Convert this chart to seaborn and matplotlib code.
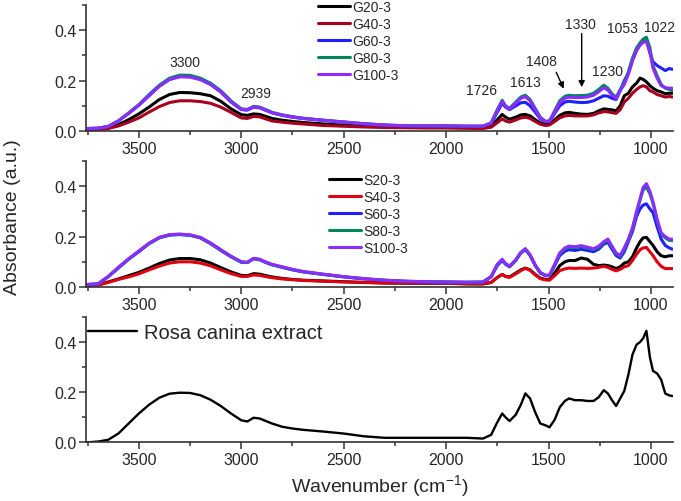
import matplotlib
matplotlib.use("Agg")
import matplotlib.pyplot as plt
from matplotlib.ticker import MultipleLocator
import seaborn as sns

sns.set_theme(style="ticks")
plt.rcParams["font.family"] = ["Liberation Sans", "DejaVu Sans"]
plt.rcParams["mathtext.default"] = "regular"

# wavenumber grid shared by all spectra (cm-1, descending)
WAVENUMBER = [
    3750, 3700, 3650, 3600, 3550, 3500, 3450, 3400, 3350, 3300,
    3250, 3200, 3150, 3100, 3050, 3000, 2970, 2940, 2910, 2880,
    2850, 2800, 2750, 2700, 2600, 2500, 2400, 2300, 2200, 2100,
    2000, 1900, 1820, 1780, 1750, 1726, 1710, 1690, 1660, 1635,
    1613, 1590, 1565, 1540, 1515, 1495, 1470, 1445, 1420, 1400,
    1370, 1340, 1310, 1280, 1255, 1230, 1210, 1190, 1170, 1150,
    1130, 1110, 1090, 1070, 1053, 1038, 1022, 1005, 990, 970,
    950, 930, 910, 895,
]

# --- top panel: G series ---
G20 = [
    0.008, 0.008, 0.012, 0.025, 0.045, 0.068, 0.095, 0.125, 0.145, 0.153,
    0.152, 0.148, 0.140, 0.118, 0.088, 0.065, 0.062, 0.068, 0.066, 0.058,
    0.050, 0.043, 0.038, 0.034, 0.028, 0.023, 0.020, 0.017, 0.015, 0.015,
    0.014, 0.013, 0.012, 0.020, 0.045, 0.066, 0.055, 0.047, 0.055, 0.064,
    0.066, 0.060, 0.045, 0.032, 0.027, 0.028, 0.045, 0.062, 0.072, 0.074,
    0.070, 0.067, 0.066, 0.070, 0.080, 0.088, 0.086, 0.084, 0.080, 0.100,
    0.140, 0.150, 0.175, 0.190, 0.210, 0.205, 0.195, 0.180, 0.170, 0.160,
    0.155, 0.148, 0.150, 0.150,
]
G40 = [
    0.006, 0.006, 0.010, 0.020, 0.035, 0.052, 0.075, 0.097, 0.113, 0.120,
    0.120, 0.117, 0.110, 0.095, 0.074, 0.052, 0.050, 0.058, 0.056, 0.048,
    0.040, 0.035, 0.031, 0.028, 0.022, 0.019, 0.016, 0.014, 0.013, 0.012,
    0.012, 0.011, 0.010, 0.015, 0.033, 0.048, 0.040, 0.035, 0.044, 0.052,
    0.055, 0.050, 0.038, 0.027, 0.022, 0.024, 0.038, 0.052, 0.060, 0.062,
    0.060, 0.060, 0.060, 0.064, 0.072, 0.077, 0.076, 0.073, 0.070, 0.085,
    0.115, 0.130, 0.150, 0.165, 0.175, 0.180, 0.175, 0.160, 0.155, 0.145,
    0.140, 0.135, 0.137, 0.135,
]
G60 = [
    0.010, 0.011, 0.018, 0.040, 0.070, 0.102, 0.140, 0.178, 0.205, 0.217,
    0.216, 0.205, 0.185, 0.155, 0.115, 0.085, 0.083, 0.095, 0.092, 0.082,
    0.072, 0.062, 0.055, 0.050, 0.042, 0.035, 0.028, 0.023, 0.020, 0.020,
    0.019, 0.018, 0.018, 0.030, 0.075, 0.110, 0.095, 0.085, 0.100, 0.112,
    0.114, 0.100, 0.075, 0.048, 0.036, 0.038, 0.070, 0.100, 0.115, 0.118,
    0.115, 0.113, 0.114, 0.120, 0.130, 0.140, 0.138, 0.130, 0.125, 0.160,
    0.200, 0.230, 0.280, 0.320, 0.345, 0.360, 0.360, 0.310, 0.275, 0.260,
    0.250, 0.240, 0.248, 0.245,
]
G80 = [
    0.010, 0.011, 0.018, 0.040, 0.072, 0.105, 0.145, 0.182, 0.210, 0.222,
    0.221, 0.210, 0.190, 0.160, 0.120, 0.088, 0.086, 0.098, 0.095, 0.085,
    0.074, 0.064, 0.057, 0.051, 0.043, 0.036, 0.029, 0.024, 0.021, 0.020,
    0.020, 0.019, 0.019, 0.032, 0.085, 0.122, 0.100, 0.090, 0.115, 0.135,
    0.142, 0.125, 0.090, 0.055, 0.038, 0.040, 0.080, 0.120, 0.138, 0.142,
    0.140, 0.141, 0.142, 0.150, 0.165, 0.182, 0.170, 0.148, 0.134, 0.165,
    0.190, 0.235, 0.290, 0.330, 0.350, 0.365, 0.372, 0.330, 0.260, 0.220,
    0.185, 0.170, 0.165, 0.160,
]
G100 = [
    0.010, 0.011, 0.018, 0.040, 0.070, 0.103, 0.142, 0.178, 0.205, 0.215,
    0.214, 0.204, 0.185, 0.156, 0.117, 0.086, 0.084, 0.096, 0.093, 0.083,
    0.073, 0.063, 0.056, 0.050, 0.043, 0.036, 0.029, 0.024, 0.021, 0.021,
    0.021, 0.020, 0.020, 0.032, 0.082, 0.118, 0.098, 0.088, 0.110, 0.130,
    0.136, 0.120, 0.085, 0.052, 0.038, 0.040, 0.076, 0.113, 0.130, 0.134,
    0.133, 0.133, 0.135, 0.142, 0.156, 0.172, 0.162, 0.142, 0.130, 0.160,
    0.185, 0.225, 0.280, 0.320, 0.340, 0.352, 0.355, 0.315, 0.250, 0.210,
    0.180, 0.172, 0.170, 0.170,
]

# --- middle panel: S series ---
S20 = [
    0.008, 0.008, 0.020, 0.032, 0.045, 0.058, 0.075, 0.093, 0.107, 0.113,
    0.113, 0.108, 0.095, 0.077, 0.060, 0.046, 0.045, 0.053, 0.051, 0.045,
    0.040, 0.034, 0.030, 0.027, 0.024, 0.021, 0.018, 0.016, 0.015, 0.015,
    0.015, 0.012, 0.012, 0.018, 0.038, 0.050, 0.042, 0.040, 0.055, 0.068,
    0.075, 0.068, 0.050, 0.035, 0.030, 0.030, 0.055, 0.085, 0.100, 0.105,
    0.105, 0.115, 0.110, 0.090, 0.085, 0.087, 0.085, 0.080, 0.073, 0.080,
    0.095, 0.100, 0.120, 0.155, 0.180, 0.195, 0.197, 0.180, 0.165, 0.140,
    0.124, 0.120, 0.124, 0.124,
]
S40 = [
    0.007, 0.007, 0.018, 0.030, 0.040, 0.052, 0.068, 0.083, 0.095, 0.100,
    0.100, 0.095, 0.084, 0.068, 0.053, 0.042, 0.042, 0.048, 0.046, 0.041,
    0.037, 0.032, 0.029, 0.026, 0.023, 0.020, 0.018, 0.016, 0.015, 0.015,
    0.015, 0.014, 0.013, 0.018, 0.038, 0.050, 0.042, 0.038, 0.052, 0.065,
    0.074, 0.066, 0.048, 0.033, 0.028, 0.027, 0.045, 0.065, 0.072, 0.075,
    0.074, 0.075, 0.074, 0.075, 0.078, 0.082, 0.078, 0.070, 0.064, 0.070,
    0.080, 0.085, 0.105, 0.130, 0.148, 0.155, 0.157, 0.140, 0.125, 0.100,
    0.082, 0.073, 0.073, 0.073,
]
S60 = [
    0.010, 0.012, 0.040, 0.075, 0.110, 0.140, 0.172, 0.195, 0.206, 0.208,
    0.205, 0.195, 0.172, 0.145, 0.120, 0.098, 0.097, 0.112, 0.108, 0.097,
    0.088, 0.078, 0.068, 0.060, 0.050, 0.040, 0.032, 0.026, 0.022, 0.020,
    0.019, 0.018, 0.018, 0.040, 0.085, 0.105, 0.090, 0.080, 0.105, 0.135,
    0.148, 0.125, 0.085, 0.055, 0.045, 0.045, 0.085, 0.125, 0.142, 0.148,
    0.145, 0.150, 0.145, 0.140, 0.150, 0.170, 0.177, 0.150, 0.125, 0.115,
    0.140, 0.180, 0.220, 0.280, 0.310, 0.325, 0.330, 0.310, 0.295, 0.240,
    0.190, 0.165, 0.155, 0.150,
]
S80 = [
    0.010, 0.012, 0.041, 0.077, 0.111, 0.142, 0.173, 0.196, 0.207, 0.209,
    0.206, 0.196, 0.174, 0.147, 0.121, 0.099, 0.097, 0.113, 0.109, 0.098,
    0.089, 0.079, 0.069, 0.061, 0.050, 0.041, 0.033, 0.027, 0.023, 0.021,
    0.020, 0.019, 0.020, 0.041, 0.088, 0.108, 0.092, 0.082, 0.106, 0.136,
    0.150, 0.126, 0.087, 0.057, 0.046, 0.046, 0.088, 0.132, 0.152, 0.158,
    0.156, 0.160, 0.154, 0.148, 0.158, 0.176, 0.186, 0.158, 0.132, 0.122,
    0.152, 0.186, 0.230, 0.295, 0.345, 0.385, 0.397, 0.370, 0.332, 0.265,
    0.210, 0.195, 0.185, 0.184,
]
S100 = [
    0.010, 0.012, 0.042, 0.078, 0.112, 0.143, 0.174, 0.197, 0.208, 0.210,
    0.207, 0.197, 0.175, 0.148, 0.122, 0.100, 0.098, 0.114, 0.110, 0.099,
    0.090, 0.080, 0.070, 0.062, 0.051, 0.041, 0.033, 0.027, 0.023, 0.021,
    0.020, 0.019, 0.020, 0.042, 0.090, 0.110, 0.093, 0.083, 0.108, 0.138,
    0.152, 0.128, 0.088, 0.058, 0.047, 0.047, 0.090, 0.135, 0.155, 0.162,
    0.160, 0.164, 0.158, 0.152, 0.162, 0.180, 0.190, 0.162, 0.135, 0.125,
    0.155, 0.190, 0.235, 0.300, 0.350, 0.395, 0.410, 0.380, 0.340, 0.270,
    0.215, 0.200, 0.190, 0.190,
]

# --- bottom panel: extract ---
ROSA = [
    0.000, 0.003, 0.010, 0.035, 0.075, 0.115, 0.150, 0.178, 0.194, 0.198,
    0.197, 0.188, 0.170, 0.145, 0.115, 0.088, 0.083, 0.098, 0.095, 0.085,
    0.075, 0.062, 0.055, 0.050, 0.043, 0.035, 0.024, 0.018, 0.018, 0.018,
    0.018, 0.018, 0.015, 0.030, 0.080, 0.115, 0.100, 0.085, 0.110, 0.150,
    0.195, 0.175, 0.120, 0.075, 0.068, 0.060, 0.090, 0.140, 0.165, 0.175,
    0.168, 0.168, 0.165, 0.165, 0.180, 0.208, 0.195, 0.168, 0.145, 0.175,
    0.205, 0.270, 0.350, 0.390, 0.400, 0.415, 0.445, 0.340, 0.285, 0.275,
    0.250, 0.195, 0.187, 0.185,
]

G_SERIES = [("G20-3", G20), ("G40-3", G40), ("G60-3", G60), ("G80-3", G80), ("G100-3", G100)]
G_COLORS = ["#000000", "#a8001e", "#1f1fff", "#00865a", "#8c2cff"]
S_SERIES = [("S20-3", S20), ("S40-3", S40), ("S60-3", S60), ("S80-3", S80), ("S100-3", S100)]
S_COLORS = ["#000000", "#e0000f", "#1f1fff", "#00865a", "#8c2cff"]

# peak labels on the top panel: (text, x, y)
PEAK_LABELS = [
    ("3300", 3275, 0.274), ("2939", 2928, 0.149), ("1726", 1826, 0.163),
    ("1613", 1615, 0.194), ("1408", 1533, 0.277), ("1330", 1343, 0.425),
    ("1230", 1211, 0.239), ("1053", 1138, 0.408), ("1022", 959, 0.414),
]
ARROWS = [((1468, 0.243), (1420, 0.158)), ((1338, 0.398), (1338, 0.163))]

SPINE = "#333333"


def style_axis(ax):
    ax.set_xlim(3758, 892)
    ax.set_ylim(0, 0.5)
    ax.set_xticks([3500, 3000, 2500, 2000, 1500, 1000])
    ax.xaxis.set_minor_locator(MultipleLocator(250))
    ax.set_yticks([0.0, 0.2, 0.4])
    ax.yaxis.set_minor_locator(MultipleLocator(0.1))
    ax.set_yticklabels(["0.0", "0.2", "0.4"])
    ax.tick_params(which="major", direction="out", length=5, width=1.1, color=SPINE,
                   labelsize=11.5, pad=2)
    ax.tick_params(which="minor", direction="out", length=3, width=1.1, color=SPINE)
    for side in ("top", "right"):
        ax.spines[side].set_visible(False)
    for side in ("left", "bottom"):
        ax.spines[side].set_color(SPINE)
        ax.spines[side].set_linewidth(1.2)
    ax.set_xlabel("")
    ax.set_ylabel("")
    ax.grid(False)


fig = plt.figure(figsize=(6.81, 5.02), dpi=100)
ax_g = fig.add_axes([0.1263, 0.737, 0.862, 0.251])
ax_s = fig.add_axes([0.1263, 0.4263, 0.862, 0.251])
ax_r = fig.add_axes([0.1263, 0.1169, 0.862, 0.2496])

for (name, vals), col in zip(G_SERIES, G_COLORS):
    sns.lineplot(x=WAVENUMBER, y=vals, ax=ax_g, color=col, lw=2.2, label=name)
for (name, vals), col in zip(S_SERIES, S_COLORS):
    sns.lineplot(x=WAVENUMBER, y=vals, ax=ax_s, color=col, lw=2.2, label=name)
sns.lineplot(x=WAVENUMBER, y=ROSA, ax=ax_r, color="black", lw=1.7, label="Rosa canina extract")

for ax in (ax_g, ax_s, ax_r):
    style_axis(ax)

leg_kw = dict(frameon=False, loc="upper left", borderpad=0, borderaxespad=0,
              handletextpad=0.15, handlelength=2.3, labelspacing=0.22, fontsize=10)
ax_g.legend(bbox_to_anchor=(0.396, 1.04), **leg_kw)
ax_s.legend(bbox_to_anchor=(0.414, 0.905), **leg_kw)
ax_r.legend(bbox_to_anchor=(0.004, 0.95), frameon=False, loc="upper left", borderpad=0,
            borderaxespad=0, handletextpad=0.35, handlelength=2.4, fontsize=14.5)

for text, x, y in PEAK_LABELS:
    ax_g.text(x, y, text, ha="center", va="center", fontsize=10)
for start, end in ARROWS:
    ax_g.annotate("", xy=end, xytext=start,
                  arrowprops=dict(arrowstyle="-|>", color="black", lw=1, mutation_scale=9))

ax_r.set_xlabel("Wavenumber (cm$^{-1}$)", fontsize=14, labelpad=4)
fig.text(0.018, 0.568, "Absorbance (a.u.)", rotation=90, ha="center", va="center", fontsize=14)

fig.savefig("out.png", dpi=100)
